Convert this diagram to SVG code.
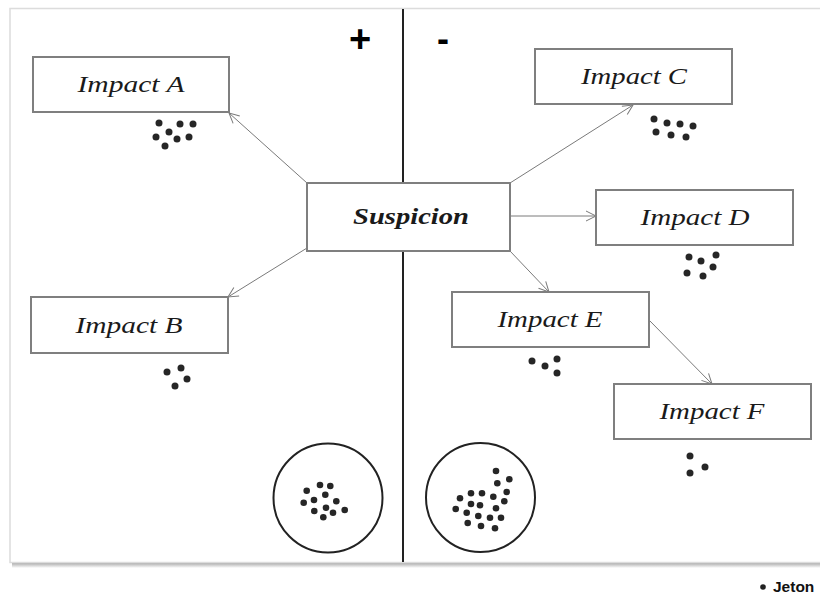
<svg xmlns="http://www.w3.org/2000/svg" width="820" height="597" viewBox="0 0 820 597">
<defs>
<style>
.box{fill:#fff;stroke:#7f7f7f;stroke-width:2}
.lbl{font-family:"Liberation Serif","DejaVu Serif",serif;font-style:italic;font-size:24px;fill:#1a1a1a;text-anchor:middle}
.conn{stroke:#7a7a7a;stroke-width:1;fill:none;marker-end:url(#arr)}
.dot{fill:#262626}
.sign{font-family:"Liberation Sans",Arial,sans-serif;font-weight:bold;fill:#000;text-anchor:middle}
</style>
<marker id="arr" viewBox="0 0 12 12" refX="11" refY="6" markerWidth="12" markerHeight="12" markerUnits="userSpaceOnUse" orient="auto">
<path d="M1,1 L11,6 L1,11" fill="none" stroke="#7a7a7a" stroke-width="1"/>
</marker>
<linearGradient id="shad" x1="0" y1="0" x2="0" y2="1">
<stop offset="0" stop-color="#9a9a9a"/>
<stop offset="1" stop-color="#ffffff"/>
</linearGradient>
</defs>
<rect x="0" y="0" width="820" height="597" fill="#fff"/>
<g id="frame">
<rect x="12" y="562" width="812" height="6" fill="url(#shad)"/>
<rect x="10" y="8.5" width="815" height="554" fill="#fff" stroke="#dcdcdc" stroke-width="1.5"/>
<line x1="403" y1="9" x2="403" y2="562" stroke="#222" stroke-width="2"/>
<text class="sign" x="360" y="52" font-size="38">+</text>
<text class="sign" x="443" y="51" font-size="36">-</text>
</g>
<g id="connectors">
<line class="conn" x1="307" y1="183" x2="229" y2="113"/>
<line class="conn" x1="307" y1="248" x2="228" y2="297"/>
<line class="conn" x1="510" y1="183" x2="633" y2="105"/>
<line class="conn" x1="510" y1="216" x2="596" y2="216"/>
<line class="conn" x1="510" y1="251" x2="549" y2="292"/>
<line class="conn" x1="649" y1="320" x2="712" y2="384"/>
</g>
<g id="suspicion">
<rect class="box" x="307" y="183" width="203" height="68"/>
<text class="lbl" x="411" y="224" font-weight="bold" textLength="116" lengthAdjust="spacingAndGlyphs">Suspicion</text>
</g>
<g id="impactA">
<rect class="box" x="33" y="57" width="196" height="55"/>
<text class="lbl" x="131" y="92" textLength="107" lengthAdjust="spacingAndGlyphs">Impact A</text>
<g class="dot"><circle cx="159" cy="123" r="3.5"/><circle cx="180" cy="124" r="3.5"/><circle cx="193" cy="124" r="3.5"/><circle cx="156" cy="137" r="3.5"/><circle cx="169" cy="132" r="3.5"/><circle cx="177" cy="139" r="3.5"/><circle cx="189" cy="137" r="3.5"/><circle cx="165" cy="146" r="3.5"/></g>
</g>
<g id="impactB">
<rect class="box" x="31" y="297" width="197" height="56"/>
<text class="lbl" x="129" y="333" textLength="107" lengthAdjust="spacingAndGlyphs">Impact B</text>
<g class="dot"><circle cx="167" cy="372" r="3.5"/><circle cx="181" cy="368" r="3.5"/><circle cx="187" cy="379" r="3.5"/><circle cx="175" cy="386" r="3.5"/></g>
</g>
<g id="impactC">
<rect class="box" x="535" y="49" width="197" height="55"/>
<text class="lbl" x="634" y="84" textLength="106" lengthAdjust="spacingAndGlyphs">Impact C</text>
<g class="dot"><circle cx="654" cy="119" r="3.5"/><circle cx="667" cy="123" r="3.5"/><circle cx="680" cy="124" r="3.5"/><circle cx="693" cy="126" r="3.5"/><circle cx="656" cy="132" r="3.5"/><circle cx="671" cy="135" r="3.5"/><circle cx="686" cy="137" r="3.5"/></g>
</g>
<g id="impactD">
<rect class="box" x="596" y="190" width="197" height="55"/>
<text class="lbl" x="695" y="225" textLength="109" lengthAdjust="spacingAndGlyphs">Impact D</text>
<g class="dot"><circle cx="689" cy="257" r="3.5"/><circle cx="701" cy="261" r="3.5"/><circle cx="716" cy="255" r="3.5"/><circle cx="713" cy="267" r="3.5"/><circle cx="687" cy="273" r="3.5"/><circle cx="703" cy="276" r="3.5"/></g>
</g>
<g id="impactE">
<rect class="box" x="452" y="292" width="197" height="55"/>
<text class="lbl" x="550" y="327" textLength="105" lengthAdjust="spacingAndGlyphs">Impact E</text>
<g class="dot"><circle cx="532" cy="361" r="3.5"/><circle cx="545" cy="366" r="3.5"/><circle cx="557" cy="359" r="3.5"/><circle cx="557" cy="373" r="3.5"/></g>
</g>
<g id="impactF">
<rect class="box" x="614" y="384" width="197" height="55"/>
<text class="lbl" x="712" y="419" textLength="105" lengthAdjust="spacingAndGlyphs">Impact F</text>
<g class="dot"><circle cx="690" cy="456" r="3.5"/><circle cx="705" cy="467" r="3.5"/><circle cx="690" cy="473" r="3.5"/></g>
</g>
<g id="poolPlus">
<circle cx="328" cy="498" r="54.5" fill="none" stroke="#222" stroke-width="2"/>
<g class="dot"><circle cx="306.7" cy="490.7" r="3.3"/><circle cx="320" cy="485" r="3.3"/><circle cx="330.3" cy="486" r="3.3"/><circle cx="325.3" cy="494.7" r="3.3"/><circle cx="303.7" cy="502.7" r="3.3"/><circle cx="314" cy="500" r="3.3"/><circle cx="336.3" cy="501.3" r="3.3"/><circle cx="314.3" cy="511" r="3.3"/><circle cx="326" cy="507.7" r="3.3"/><circle cx="333" cy="512.7" r="3.3"/><circle cx="344.7" cy="510" r="3.3"/><circle cx="323.3" cy="517.3" r="3.3"/></g>
</g>
<g id="poolMinus">
<circle cx="480.5" cy="497.5" r="54.5" fill="none" stroke="#222" stroke-width="2"/>
<g class="dot"><circle cx="496" cy="471" r="3.3"/><circle cx="497.3" cy="483.3" r="3.3"/><circle cx="509.3" cy="479.3" r="3.3"/><circle cx="460" cy="498.3" r="3.3"/><circle cx="471" cy="493.3" r="3.3"/><circle cx="482" cy="493.3" r="3.3"/><circle cx="493.3" cy="496.7" r="3.3"/><circle cx="506.7" cy="492" r="3.3"/><circle cx="455.7" cy="509" r="3.3"/><circle cx="471" cy="504" r="3.3"/><circle cx="480" cy="505.3" r="3.3"/><circle cx="496" cy="508.3" r="3.3"/><circle cx="504.3" cy="501.3" r="3.3"/><circle cx="466.7" cy="512.7" r="3.3"/><circle cx="478.3" cy="516" r="3.3"/><circle cx="490" cy="517.7" r="3.3"/><circle cx="501" cy="517.7" r="3.3"/><circle cx="467.7" cy="523" r="3.3"/><circle cx="481" cy="526" r="3.3"/><circle cx="495" cy="528.3" r="3.3"/></g>
</g>
<g id="legend">
<circle cx="763" cy="587" r="2.8" fill="#222"/>
<text x="773" y="592" font-family="Liberation Sans, Arial, sans-serif" font-weight="bold" font-size="15.5" fill="#111">Jeton</text>
</g>
</svg>
